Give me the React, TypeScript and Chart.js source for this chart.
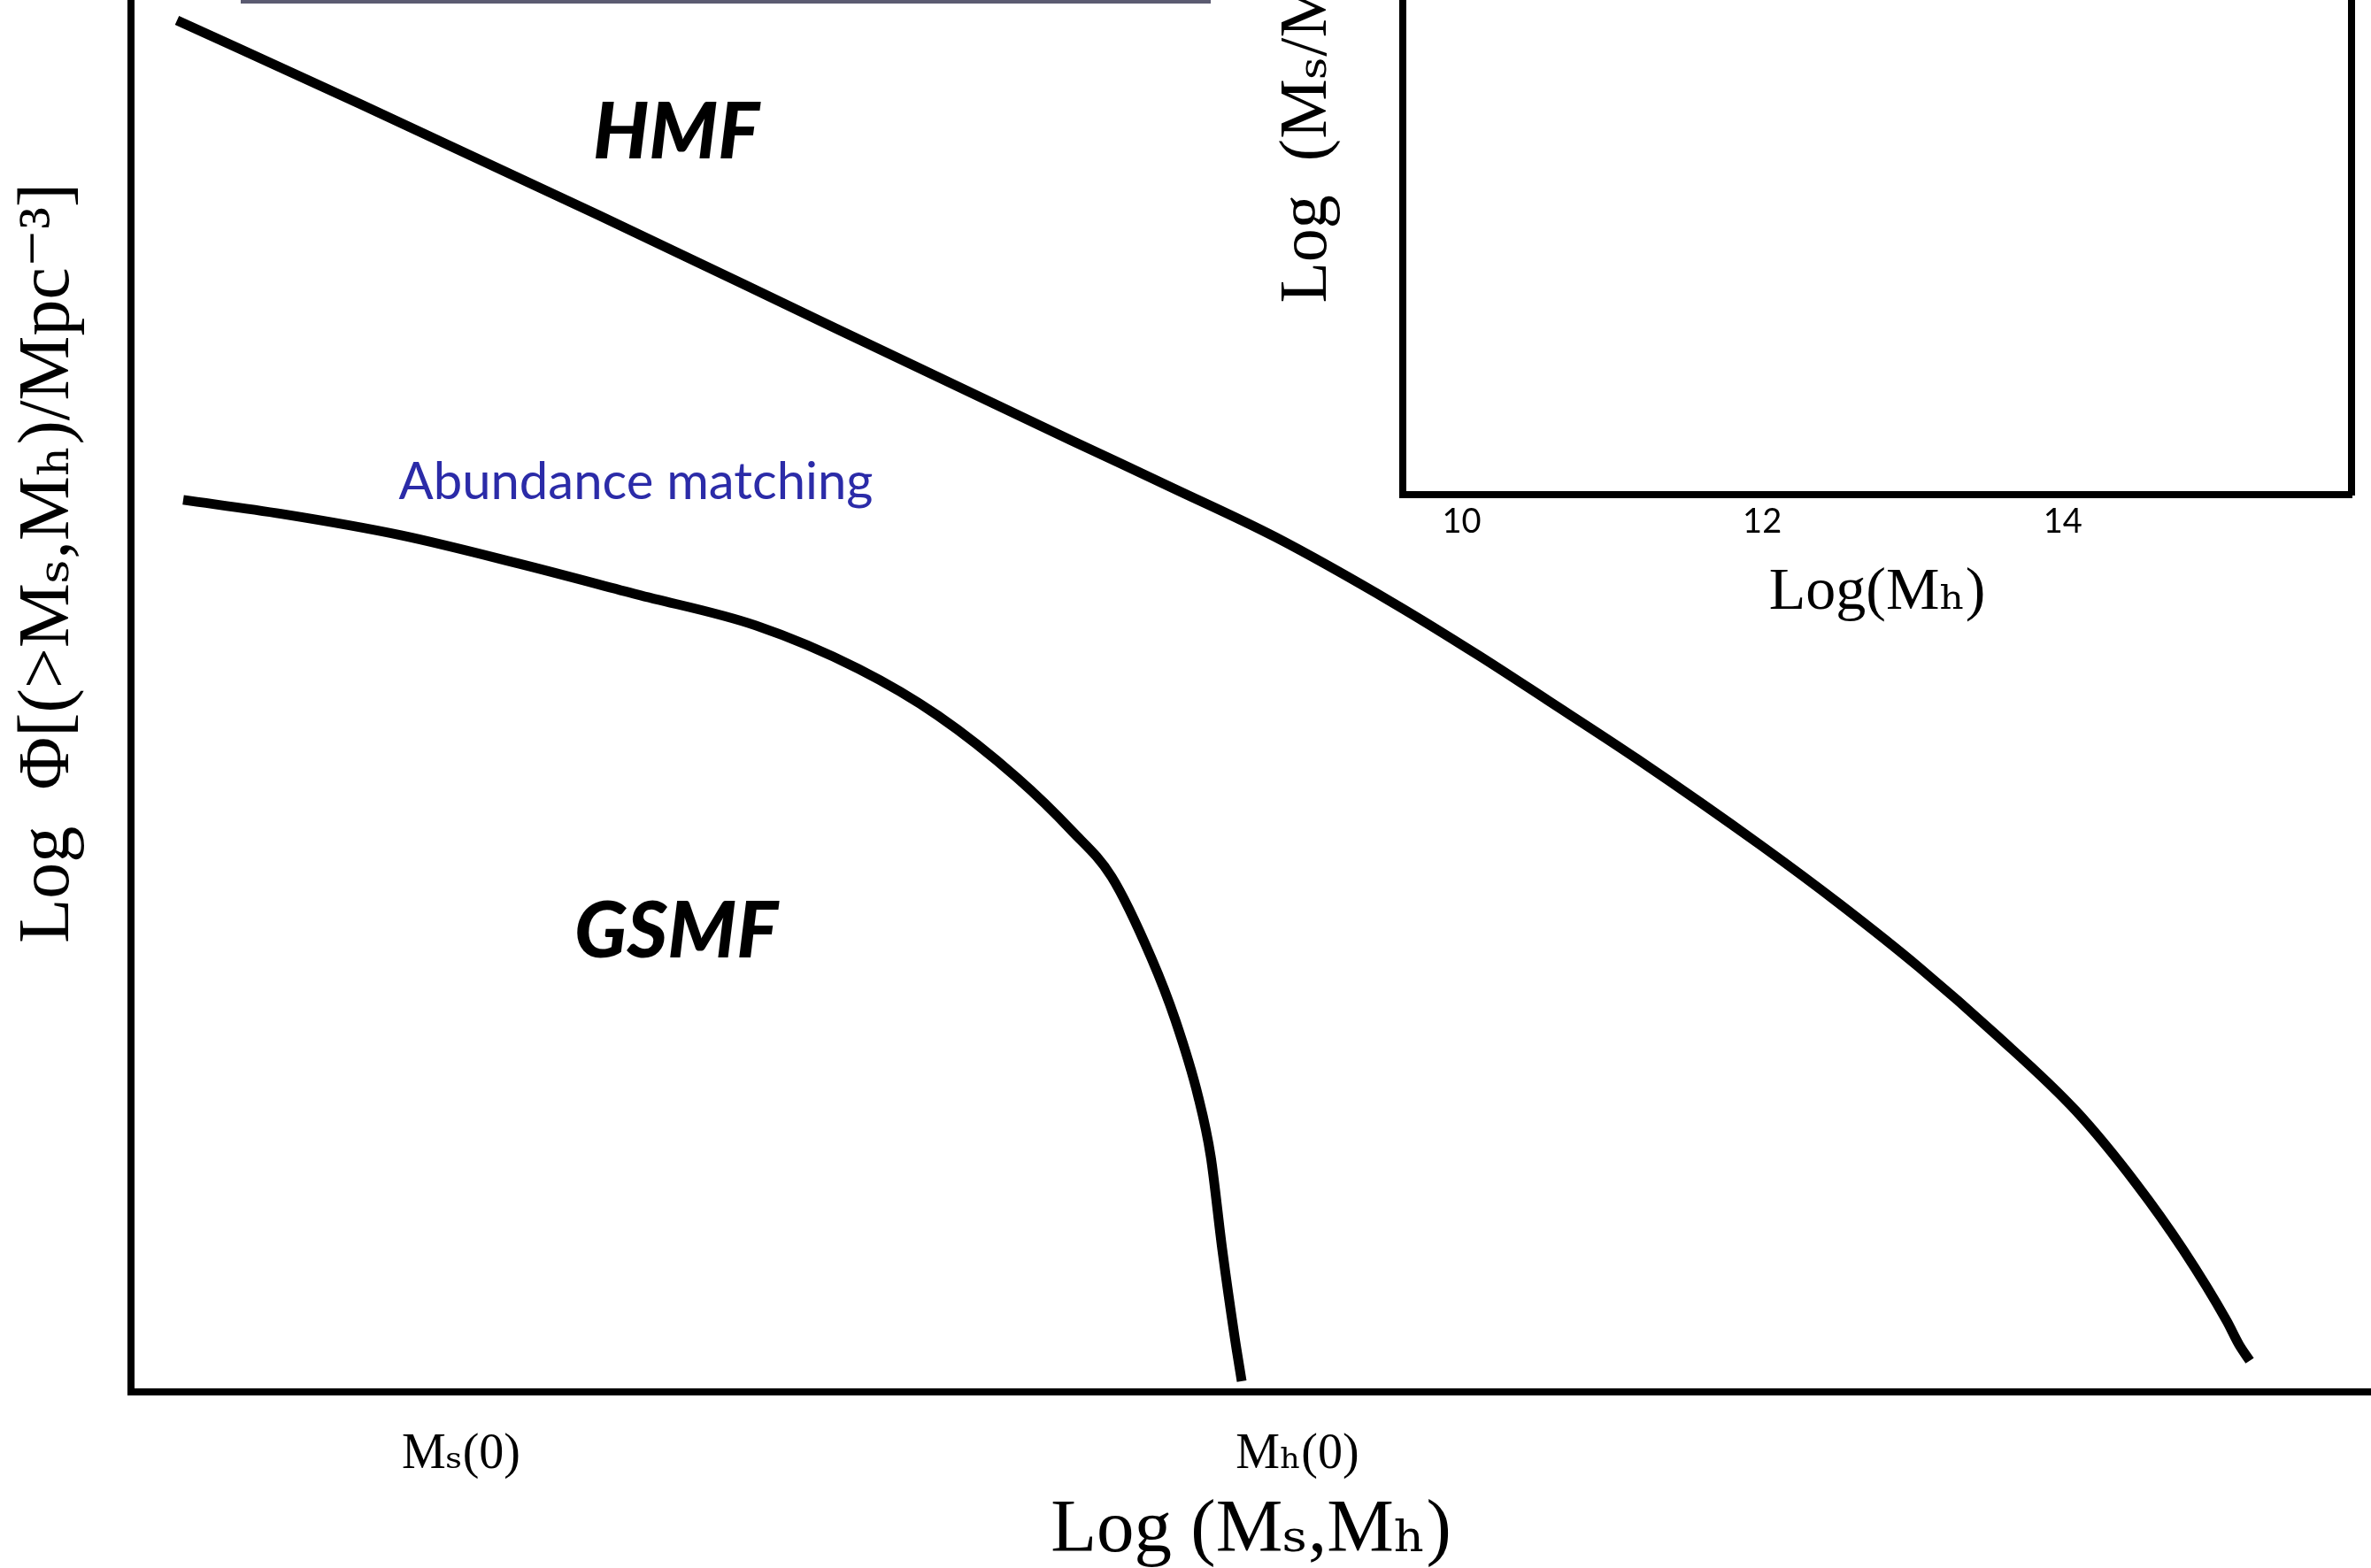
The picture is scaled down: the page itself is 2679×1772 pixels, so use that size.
import React, { useEffect, useRef } from "react";
import { Chart, registerables } from "chart.js";

Chart.register(...registerables);

// ---------- data (main panel, schematic units) ----------
const hmfX = [0.52, 2.6, 5.28, 7.96, 10.63, 11.78, 12.93, 14.27, 15.23, 16.0, 17.02, 18.41, 19.31, 20.2, 21.09, 21.98, 22.65, 23.19, 23.68, 23.82, 23.94];
const hmfY = [15.5, 14.55, 13.3, 12.02, 10.75, 10.21, 9.66, 8.91, 8.32, 7.82, 7.15, 6.18, 5.51, 4.8, 4.02, 3.17, 2.36, 1.6, 0.8, 0.53, 0.35];

const gsmfX = [0.59, 1.71, 3.05, 4.38, 5.72, 7.06, 8.22, 9.12, 10.01, 10.63, 11.08, 11.53, 11.8, 12.06, 12.2, 12.33, 12.47, 12.55];
const gsmfY = [10.08, 9.92, 9.68, 9.36, 9.01, 8.66, 8.17, 7.64, 6.94, 6.34, 5.82, 4.9, 4.2, 3.33, 2.66, 1.61, 0.62, 0.12];

const topBarX = [1.24, 12.2];
const topBarY = [15.72, 15.72];

const mainXTickValues = [3.73, 13.18];
const mainXTickLabels = ["Mₛ(0)", "Mₕ(0)"];
const mainXTitle = "Log (Mₛ,Mₕ)";
const mainYTitle = "Log  Φ[(>Mₛ,Mₕ)/Mpc⁻³]";

const curveLabelTexts = ["HMF", "GSMF", "Abundance matching"];
const curveLabelX = [6.16, 6.16, 5.705];
const curveLabelY = [13.94, 4.91, 10.09];

// ---------- data (inset panel) ----------
const insetXTickValues = [10, 12, 14];
const insetXTickLabels = ["10", "12", "14"];
const insetXTitle = "Log(Mₕ)";
const insetYTitle = "Log  (Mₛ/Mₕ)";

// ---------- styles ----------
const SERIF = "'Liberation Serif', 'DejaVu Serif', 'Times New Roman', serif";
const SANS = "Lato, 'Open Sans', sans-serif";
const curveLabelFonts = [
  `italic 900 88px ${SANS}`,
  `italic 900 88px ${SANS}`,
  `400 58px ${SANS}`,
];
const curveLabelColors = ["#000000", "#000000", "#2b2ba8"];

const toPoints = (xs: number[], ys: number[]) => xs.map((x, i) => ({ x, y: ys[i] }));

const curveLabelPlugin = {
  id: "curveLabels",
  afterDatasetsDraw(chart: any) {
    const { ctx } = chart;
    const xs = chart.scales.x;
    const ys = chart.scales.y;
    ctx.save();
    curveLabelTexts.forEach((t, i) => {
      ctx.font = curveLabelFonts[i];
      ctx.fillStyle = curveLabelColors[i];
      ctx.textAlign = "center";
      ctx.textBaseline = "alphabetic";
      ctx.fillText(t, xs.getPixelForValue(curveLabelX[i]), ys.getPixelForValue(curveLabelY[i]));
    });
    ctx.restore();
  },
};

function mainConfig(): any {
  return {
    type: "line",
    data: {
      datasets: [
        {
          data: toPoints(hmfX, hmfY),
          borderColor: "#000",
          borderWidth: 11,
          pointRadius: 0,
          cubicInterpolationMode: "monotone",
          borderCapStyle: "butt",
          borderJoinStyle: "round",
        },
        {
          data: toPoints(gsmfX, gsmfY),
          borderColor: "#000",
          borderWidth: 11,
          pointRadius: 0,
          cubicInterpolationMode: "monotone",
          borderCapStyle: "butt",
          borderJoinStyle: "round",
        },
        {
          data: toPoints(topBarX, topBarY),
          borderColor: "#5b5b71",
          borderWidth: 6,
          pointRadius: 0,
          borderCapStyle: "butt",
        },
      ],
    },
    options: {
      responsive: false,
      animation: false,
      devicePixelRatio: 1,
      layout: { padding: { left: 6, right: 0, top: 0, bottom: 0 } },
      plugins: { legend: { display: false }, tooltip: { enabled: false }, title: { display: false } },
      scales: {
        x: {
          type: "linear",
          min: 0,
          max: 25.31,
          grid: { display: false, drawTicks: false },
          border: { display: true, color: "#000", width: 8 },
          afterBuildTicks: (s: any) => {
            s.ticks = mainXTickValues.map((v) => ({ value: v }));
          },
          ticks: {
            autoSkip: false,
            maxRotation: 0,
            padding: 38,
            color: "#000",
            font: { family: SERIF, size: 56 },
            callback: (_v: any, i: number) => mainXTickLabels[i] ?? "",
          },
          title: {
            display: true,
            text: mainXTitle,
            color: "#000",
            font: { family: SERIF, size: 85 },
            padding: { top: -36, bottom: 18 },
          },
        },
        y: {
          type: "linear",
          min: 0,
          max: 18.73,
          grid: { display: false, drawTicks: false },
          border: { display: true, color: "#000", width: 8 },
          ticks: { display: false },
          title: {
            display: true,
            text: mainYTitle,
            color: "#000",
            font: { family: SERIF, size: 82 },
            padding: { top: 0, bottom: 43.6 },
          },
        },
      },
    },
    plugins: [curveLabelPlugin],
  };
}

function insetConfig(): any {
  return {
    type: "line",
    data: { datasets: [{ data: [], pointRadius: 0 }] },
    options: {
      responsive: false,
      animation: false,
      devicePixelRatio: 1,
      layout: { padding: { left: 0, right: 22, top: 0, bottom: 0 } },
      plugins: { legend: { display: false }, tooltip: { enabled: false } },
      scales: {
        x: {
          type: "linear",
          min: 9.61,
          max: 15.92,
          grid: { display: false, drawTicks: false },
          border: { display: true, color: "#000", width: 8 },
          afterBuildTicks: (s: any) => {
            s.ticks = insetXTickValues.map((v) => ({ value: v }));
          },
          ticks: {
            autoSkip: false,
            maxRotation: 0,
            padding: 8,
            color: "#000",
            font: { family: SANS, size: 38 },
            callback: (_v: any, i: number) => insetXTickLabels[i] ?? "",
          },
          title: {
            display: true,
            text: insetXTitle,
            color: "#000",
            font: { family: SERIF, size: 68 },
            padding: { top: 8.4, bottom: 9 },
          },
        },
        y: {
          type: "linear",
          position: "left",
          min: 0,
          max: 1,
          grid: { display: false, drawTicks: false },
          border: { display: true, color: "#000", width: 8 },
          ticks: { display: false },
          title: {
            display: true,
            text: insetYTitle,
            color: "#000",
            font: { family: SERIF, size: 76 },
            padding: { top: 12, bottom: 62 },
          },
        },
        y2: {
          type: "linear",
          position: "right",
          min: 0,
          max: 1,
          grid: { display: false, drawTicks: false },
          border: { display: true, color: "#000", width: 8 },
          ticks: { display: false },
        },
      },
    },
  };
}

function ChartCanvas(props: { make: () => any; left: number; top: number; width: number; height: number }) {
  const ref = useRef<HTMLCanvasElement>(null);
  useEffect(() => {
    const chart = new Chart(ref.current as HTMLCanvasElement, props.make());
    return () => chart.destroy();
  }, []);
  return (
    <canvas
      ref={ref}
      width={props.width}
      height={props.height}
      style={{
        position: "absolute",
        left: props.left,
        top: props.top,
        width: props.width,
        height: props.height,
        display: "block",
      }}
    />
  );
}

export default function App() {
  return (
    <div
      style={{
        position: "absolute",
        left: 0,
        top: 0,
        width: 2679,
        height: 1772,
        overflow: "hidden",
        background: "#ffffff",
      }}
    >
      <ChartCanvas make={mainConfig} left={0} top={-300} width={2679} height={2100} />
      <ChartCanvas make={insetConfig} left={1420} top={-300} width={1259} height={1020} />
    </div>
  );
}
